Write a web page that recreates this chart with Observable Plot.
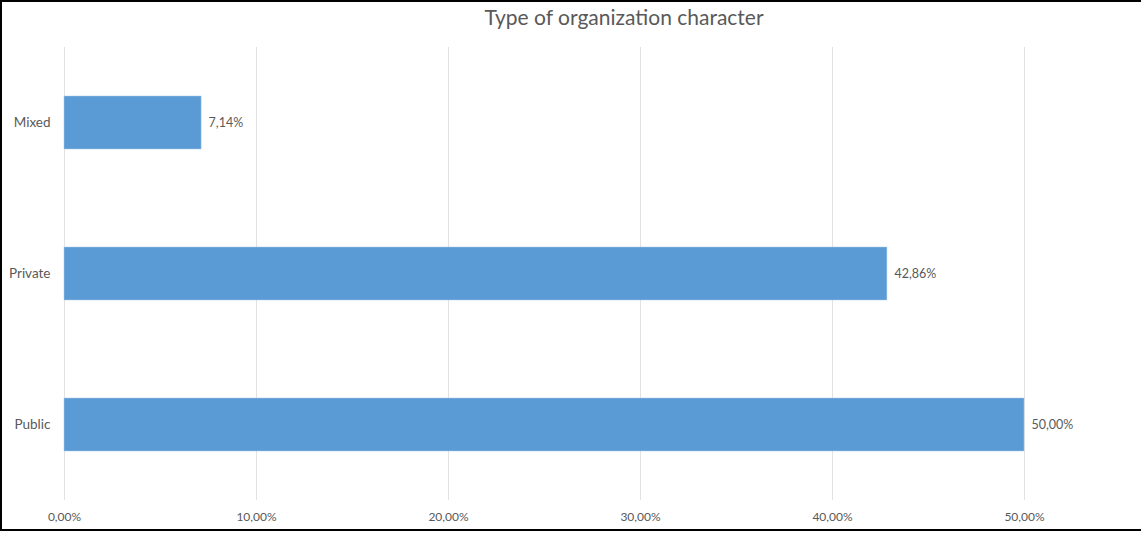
<!DOCTYPE html>
<html>
<head>
<meta charset="utf-8">
<script src="https://cdn.jsdelivr.net/npm/d3@7"></script>
<script src="https://cdn.jsdelivr.net/npm/@observablehq/plot@0.6"></script>
<style>
  html, body { margin: 0; padding: 0; background: #fff; }
  #wrap { position: relative; width: 1141px; height: 533px; overflow: hidden; font-family: Lato, "Open Sans", sans-serif; }
  #frame { position: absolute; left: 0; top: 0; width: 1143px; height: 531px; box-sizing: border-box; border: 2px solid #000; pointer-events: none; }
  #title { position: absolute; left: 0; top: 4px; width: 1248px; text-align: center; font-size: 21px; color: #595959; }
  #chart { position: absolute; left: 0; top: 0; }
</style>
</head>
<body>
<div id="wrap">
  <div id="chart"></div>
  <div id="title">Type of organization character</div>
  <div id="frame"></div>
</div>
<script>
const categories = ["Mixed", "Private", "Public"];
const values = [0.0714, 0.4286, 0.5];
const tickValues = [0, 0.1, 0.2, 0.3, 0.4, 0.5];

const data = categories.map((c, i) => ({category: c, value: values[i]}));
const fmt = v => (v * 100).toFixed(2).replace(".", ",") + "%";

const chart = Plot.plot({
  width: 1141,
  height: 533,
  marginLeft: 64,
  marginRight: 117,
  marginTop: 47,
  marginBottom: 33,
  style: {fontFamily: "Lato, 'Open Sans', sans-serif", color: "#595959", background: "transparent"},
  x: {domain: [0, 0.5], ticks: tickValues, tickFormat: fmt},
  y: {domain: categories, paddingInner: 0.65, paddingOuter: 0.325},
  marks: [
    Plot.gridX(tickValues, {stroke: "#e2e2e2", strokeOpacity: 1}),
    Plot.axisX(tickValues, {tickSize: 0, tickPadding: 12, tickFormat: fmt, fontSize: 12, label: null, fill: "#595959"}),
    Plot.axisY({tickSize: 0, tickPadding: 14, fontSize: 13.5, label: null, fill: "#595959"}),
    Plot.barX(data, {x: "value", y: "category", fill: "#5B9BD5", stroke: "#a9c8e8", strokeWidth: 0.5}),
    Plot.text(data, {x: "value", y: "category", text: d => fmt(d.value), dx: 7, textAnchor: "start", fontSize: 12.5, fill: "#595959"})
  ]
});
document.getElementById("chart").appendChild(chart);
</script>
</body>
</html>
